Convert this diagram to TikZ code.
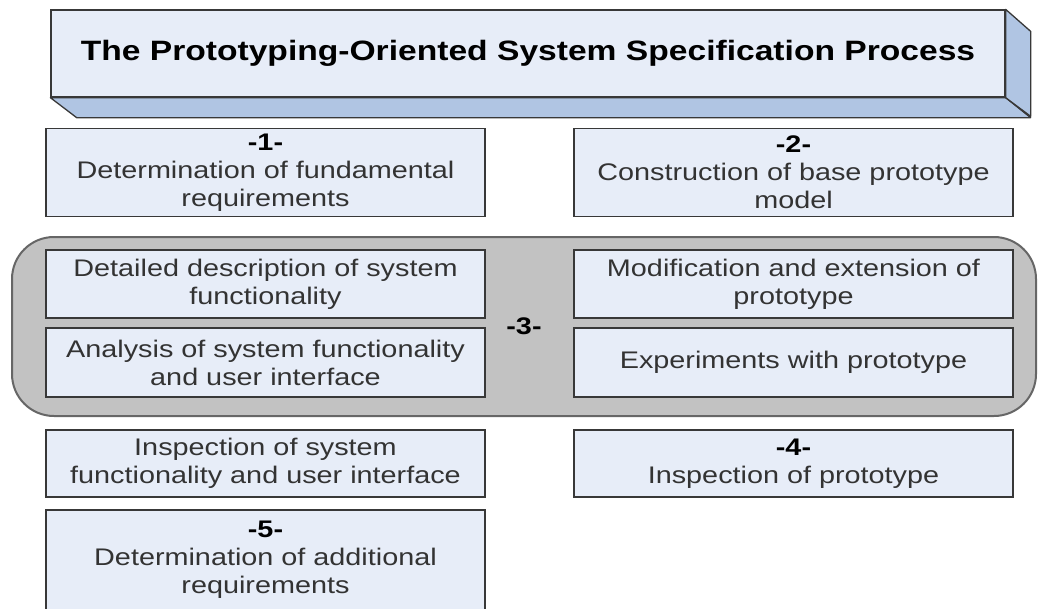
\documentclass[tikz,border=0pt]{standalone}
\usepackage{fontspec}
\setmainfont{Liberation Sans}[FakeStretch=1.2]

\definecolor{boxfill}{HTML}{E7EDF8}
\definecolor{sidefill}{HTML}{B0C5E3}
\definecolor{phasefill}{HTML}{C2C2C2}
\definecolor{boxedge}{HTML}{383838}
\definecolor{boxtext}{HTML}{333333}

\tikzset{
  stepbox/.style={draw=boxedge, fill=boxfill, line width=1.3pt, inner sep=0pt,
    minimum width=439pt, align=center, text=boxtext,
    font=\fontsize{24}{28}\selectfont},
  titlebox/.style={draw=boxedge, fill=boxfill, line width=1.3pt, inner sep=0pt,
    minimum width=954pt, minimum height=87pt,
    font=\bfseries\fontsize{28}{32}\selectfont},
  side/.style={draw=boxedge, fill=sidefill, line width=1.3pt, line join=round},
  phase/.style={draw=black!60, fill=phasefill, line width=2pt, rounded corners=42pt,
    minimum width=1024pt, minimum height=179pt, font=\bfseries\fontsize{24}{28}\selectfont},
}
\newcommand{\stepno}[1]{{\bfseries\color{black}-#1-}}

\begin{document}
\begin{tikzpicture}[x=1pt,y=-1pt]
\useasboundingbox (0,0) rectangle (1039,608);
\clip (0,0) rectangle (1039,608);

% title block
\node[titlebox] (title) at (528,53.5) {The Prototyping-Oriented System Specification Process};
\draw[side] (title.south west) -- (title.south east) -- ++(25,20) -- ++(-954,0) -- cycle;
\draw[side] (title.south east) -- (title.north east) -- ++(25,22) -- ++(0,85) -- cycle;

% steps 1 and 2
\node[stepbox, minimum height=88pt] (s1) at (265.5,172.5) {\stepno{1}\\Determination of fundamental\\requirements};
\node[stepbox, minimum height=88pt] (s2) at (793.5,172.5) {\stepno{2}\\Construction of base prototype\\model};

% step 3
\node[phase] (s3) at (524,326.5) {-3-};
\node[stepbox, minimum height=68pt] (s3a) at (265.5,284) {Detailed description of system\\functionality};
\node[stepbox, minimum height=69pt] (s3b) at (265.5,362.5) {Analysis of system functionality\\and user interface};
\node[stepbox, minimum height=68pt] (s3c) at (793.5,284) {Modification and extension of\\prototype};
\node[stepbox, minimum height=69pt] (s3d) at (793.5,362.5) {Experiments with prototype};

% step 4
\node[stepbox, minimum height=67pt] (s4a) at (265.5,463.5) {Inspection of system\\functionality and user interface};
\node[stepbox, minimum height=67pt] (s4b) at (793.5,463.5) {\stepno{4}\\Inspection of prototype};

% step 5
\node[stepbox, minimum height=100pt] (s5) at (265.5,560) {\stepno{5}\\Determination of additional\\requirements};
\end{tikzpicture}
\end{document}
